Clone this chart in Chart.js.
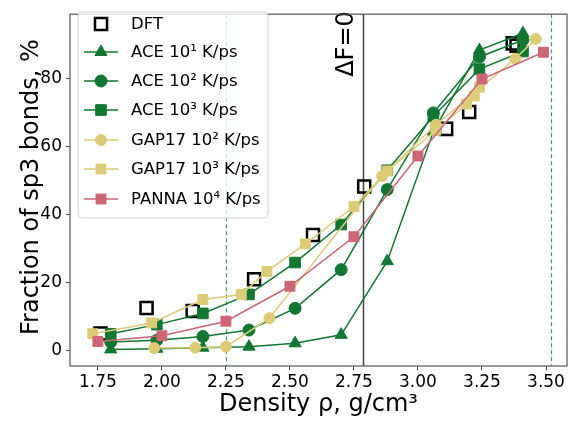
<!DOCTYPE html>
<html>
<head>
<meta charset="utf-8">
<script src="https://cdn.jsdelivr.net/npm/chart.js@4.4.1/dist/chart.umd.min.js"></script>
<style>
  html, body { margin: 0; padding: 0; background: #fff; }
  #wrap { width: 579px; height: 424px; }
</style>
</head>
<body>
<div id="wrap"><canvas id="sp3Chart" width="579" height="424"></canvas></div>
<script>
// Data
const dftX = [1.76, 1.94, 2.12, 2.36, 2.59, 2.79, 3.11, 3.20, 3.37, 3.385];
const dftY = [5.0, 12.5, 11.6, 21.0, 34.0, 48.3, 65.3, 70.3, 90.5, 89.8];

const aceX = [1.80, 1.98, 2.16, 2.34, 2.52, 2.70, 2.88, 3.06, 3.24, 3.41];
const ace1Y = [0.3, 0.5, 0.8, 1.1, 2.1, 4.6, 26.3, 64.5, 88.5, 93.5];
const ace2Y = [2.5, 3.0, 4.1, 6.0, 12.4, 23.8, 47.4, 70.0, 86.5, 91.5];
const ace3Y = [4.9, 7.6, 10.9, 16.5, 25.9, 37.1, 53.1, 69.0, 82.9, 88.1];

const gap2X = [1.97, 2.13, 2.25, 2.42, 2.86, 3.07, 3.38, 3.46];
const gap2Y = [0.7, 0.8, 1.1, 9.5, 51.4, 66.5, 86.0, 91.8];
const gap3X = [1.73, 1.96, 2.16, 2.31, 2.41, 2.56, 2.75, 2.88, 3.07, 3.19, 3.22, 3.24];
const gap3Y = [4.9, 8.1, 15.0, 16.5, 23.3, 31.4, 42.4, 52.9, 64.9, 72.6, 75.0, 77.6];

const pannaX = [1.75, 2.00, 2.25, 2.50, 2.75, 3.00, 3.25, 3.49];
const pannaY = [2.6, 4.3, 8.6, 18.9, 33.5, 57.3, 80.0, 87.9];

const xTicks = [1.75, 2.00, 2.25, 2.50, 2.75, 3.00, 3.25, 3.50];
const yTicks = [0, 20, 40, 60, 80];
const dashedLinesX = [2.25, 3.52];
const deltaFx = 2.786;

const labels = ['DFT', 'ACE 10¹ K/ps', 'ACE 10² K/ps', 'ACE 10³ K/ps',
  'GAP17 10² K/ps', 'GAP17 10³ K/ps', 'PANNA 10⁴ K/ps'];

const GREEN = '#117733';
const SAND = '#DDCC77';
const ROSE = '#CC6677';
const FONT = '"DejaVu Sans", sans-serif';

const pts = (xs, ys) => xs.map((x, i) => ({ x, y: ys[i] }));

function series(idx, xs, ys, color, style, radius) {
    return {
        label: labels[idx],
        data: pts(xs, ys),
        borderColor: color,
        backgroundColor: color,
        pointBackgroundColor: color,
        pointBorderColor: color,
        pointStyle: style,
        pointRadius: radius,
        pointHoverRadius: radius,
        pointBorderWidth: 1,
        borderWidth: 1.5,
        showLine: true,
        tension: 0,
        order: 10 - idx
    };
}

const datasets = [
    {
        label: labels[0],
        data: pts(dftX, dftY),
        showLine: false,
        pointStyle: 'rect',
        pointRadius: 8.5,
        pointHoverRadius: 8.5,
        pointBorderWidth: 2.5,
        pointBorderColor: '#000',
        pointBackgroundColor: 'rgba(0,0,0,0)',
        borderColor: '#000',
        backgroundColor: 'rgba(0,0,0,0)',
        order: 10
    },
    series(1, aceX, ace1Y, GREEN, 'triangle', 7),
    series(2, aceX, ace2Y, GREEN, 'circle', 6),
    series(3, aceX, ace3Y, GREEN, 'rect', 7.5),
    series(4, gap2X, gap2Y, SAND, 'circle', 5.5),
    series(5, gap3X, gap3Y, SAND, 'rect', 7),
    series(6, pannaX, pannaY, ROSE, 'rect', 7)
];

// marker drawing for the legend
function marker(ctx, style, x, y, r, fill, stroke, lw) {
    ctx.save();
    ctx.beginPath();
    if (style === 'circle') {
        ctx.arc(x, y, r, 0, Math.PI * 2);
    } else if (style === 'rect') {
        const s = Math.SQRT1_2 * r;
        ctx.rect(x - s, y - s, 2 * s, 2 * s);
    } else if (style === 'triangle') {
        ctx.moveTo(x, y - r);
        ctx.lineTo(x + r * 0.866, y + r / 2);
        ctx.lineTo(x - r * 0.866, y + r / 2);
        ctx.closePath();
    }
    ctx.fillStyle = fill;
    ctx.fill();
    ctx.lineWidth = lw;
    ctx.strokeStyle = stroke;
    ctx.stroke();
    ctx.restore();
}

const decorations = {
    id: 'decorations',
    beforeDatasetsDraw(chart) {
        const { ctx, chartArea: a, scales: { x } } = chart;
        ctx.save();
        // dashed green lines
        ctx.strokeStyle = 'rgba(17,119,51,0.75)';
        ctx.lineWidth = 1.2;
        ctx.setLineDash([4, 3]);
        dashedLinesX.forEach(v => {
            const px = Math.round(x.getPixelForValue(v)) + 0.5;
            ctx.beginPath();
            ctx.moveTo(px, a.top);
            ctx.lineTo(px, a.bottom);
            ctx.stroke();
        });
        ctx.setLineDash([]);
        // ΔF=0 line
        const fx = Math.round(x.getPixelForValue(deltaFx)) + 0.5;
        ctx.strokeStyle = '#444';
        ctx.lineWidth = 1.5;
        ctx.beginPath();
        ctx.moveTo(fx, a.top);
        ctx.lineTo(fx, a.bottom);
        ctx.stroke();
        ctx.translate(fx - 17, 44);
        ctx.rotate(-Math.PI / 2);
        ctx.fillStyle = '#000';
        ctx.font = '24px ' + FONT;
        ctx.textAlign = 'center';
        ctx.textBaseline = 'middle';
        ctx.fillText('ΔF=0', 0, 0);
        ctx.restore();
    },
    afterDraw(chart) {
        const { ctx, chartArea: a } = chart;
        ctx.save();
        // frame
        ctx.strokeStyle = '#555';
        ctx.lineWidth = 1.2;
        ctx.strokeRect(a.left, a.top, a.right - a.left, a.bottom - a.top);

        // axis titles
        ctx.fillStyle = '#000';
        ctx.font = '24px ' + FONT;
        ctx.textAlign = 'center';
        ctx.textBaseline = 'middle';
        ctx.fillText('Density ρ, g/cm³', (a.left + a.right) / 2, 405);
        ctx.save();
        ctx.translate(32, (a.top + a.bottom) / 2 - 3);
        ctx.rotate(-Math.PI / 2);
        ctx.fillText('Fraction of sp3 bonds, %', 0, 0);
        ctx.restore();

        // legend
        const lx = 78, ly = 12, lw = 190, lh = 206;
        ctx.beginPath();
        ctx.roundRect(lx, ly, lw, lh, 4);
        ctx.fillStyle = 'rgba(255,255,255,0.8)';
        ctx.fill();
        ctx.strokeStyle = '#d0d0d0';
        ctx.lineWidth = 1;
        ctx.stroke();

        const rowsY = [24, 52, 81, 110, 140, 169, 199];
        ctx.font = '16.5px ' + FONT;
        ctx.textAlign = 'left';
        ctx.textBaseline = 'middle';
        chart.data.datasets.forEach((ds, i) => {
            const y = rowsY[i];
            if (ds.showLine) {
                ctx.strokeStyle = ds.borderColor;
                ctx.lineWidth = 1.5;
                ctx.beginPath();
                ctx.moveTo(84, y);
                ctx.lineTo(118, y);
                ctx.stroke();
            }
            marker(ctx, ds.pointStyle, 101, y, ds.pointRadius,
                ds.pointBackgroundColor, ds.pointBorderColor, ds.pointBorderWidth);
            ctx.fillStyle = '#000';
            ctx.fillText(ds.label, 131, y + 1);
        });
        ctx.restore();
    }
};

const chart = new Chart(document.getElementById('sp3Chart'), {
    type: 'scatter',
    data: { datasets },
    plugins: [decorations],
    options: {
        responsive: false,
        animation: false,
        events: [],
        layout: { padding: { top: 3, right: 12, left: 0, bottom: 0 } },
        plugins: {
            legend: { display: false },
            tooltip: { enabled: false }
        },
        scales: {
            x: {
                type: 'linear',
                min: 1.641,
                max: 3.582,
                afterFit: s => { s.height = 58; },
                afterBuildTicks: s => { s.ticks = xTicks.map(v => ({ value: v })); },
                grid: { drawOnChartArea: false, drawTicks: true, tickLength: 4, color: '#444', tickWidth: 1 },
                border: { display: false },
                ticks: {
                    color: '#000',
                    font: { family: FONT, size: 17 },
                    padding: 2,
                    maxRotation: 0,
                    callback: v => v.toFixed(2)
                }
            },
            y: {
                type: 'linear',
                min: -4.6,
                max: 99.1,
                afterFit: s => { s.width = 70; },
                afterBuildTicks: s => { s.ticks = yTicks.map(v => ({ value: v })); },
                grid: { drawOnChartArea: false, drawTicks: true, tickLength: 4, color: '#444', tickWidth: 1 },
                border: { display: false },
                ticks: {
                    color: '#000',
                    font: { family: FONT, size: 17 },
                    padding: 4,
                    callback: v => String(v)
                }
            }
        }
    }
});
</script>
</body>
</html>
